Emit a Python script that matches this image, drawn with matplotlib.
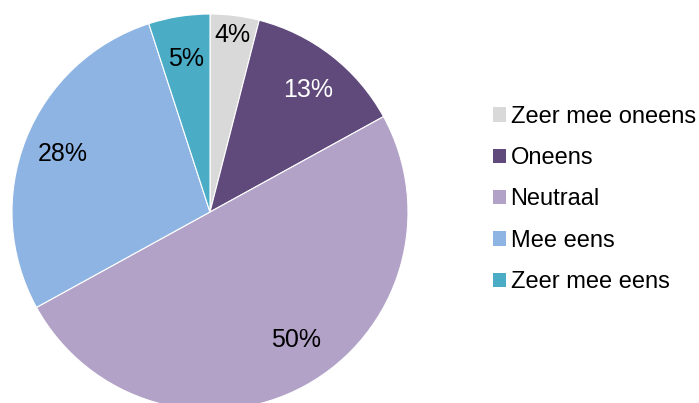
import numpy as np
import matplotlib.pyplot as plt
from matplotlib.patches import Patch

labels = ["Zeer mee oneens", "Oneens", "Neutraal", "Mee eens", "Zeer mee eens"]
values = [4, 13, 50, 28, 5]
colors = ["#D9D9D9", "#604A7B", "#B3A2C7", "#8EB4E3", "#4BACC6"]
label_colors = ["black", "white", "black", "black", "black"]
# label placement: distance from centre (radius units) and angle nudge (deg)
label_dist = [0.90, 0.79, 0.78, 0.80, 0.78]
label_nudge = [0, -1, 5, 0, 0]

plt.rcParams["font.family"] = ["Liberation Sans", "DejaVu Sans"]

fig = plt.figure(figsize=(6.99, 4.03), dpi=100)
# pie centre ~ (210, 212) px, radius ~198 px
ax = fig.add_axes([12 / 699, -7 / 403, 396 / 699, 396 / 403])

wedges, _ = ax.pie(values, colors=colors, startangle=90, counterclock=False,
                   wedgeprops=dict(edgecolor="white", linewidth=0.8))

for w, v, c, d, n in zip(wedges, values, label_colors, label_dist, label_nudge):
    ang = np.deg2rad((w.theta1 + w.theta2) / 2 + n)
    ax.text(d * np.cos(ang), d * np.sin(ang), f"{v}%", ha="center", va="center",
            fontsize=18, color=c)

ax.set_xlim(-1, 1)
ax.set_ylim(-1, 1)
ax.set_aspect("equal")
ax.axis("off")

handles = [Patch(facecolor=c, edgecolor="none") for c in colors]
fig.legend(handles, labels, loc="center left", bbox_to_anchor=(481 / 699, 203.5 / 403),
           frameon=False, fontsize=17, handlelength=0.55, handleheight=0.55,
           handletextpad=0.2, labelspacing=0.82, borderpad=0)

fig.savefig("out.png", dpi=100)
